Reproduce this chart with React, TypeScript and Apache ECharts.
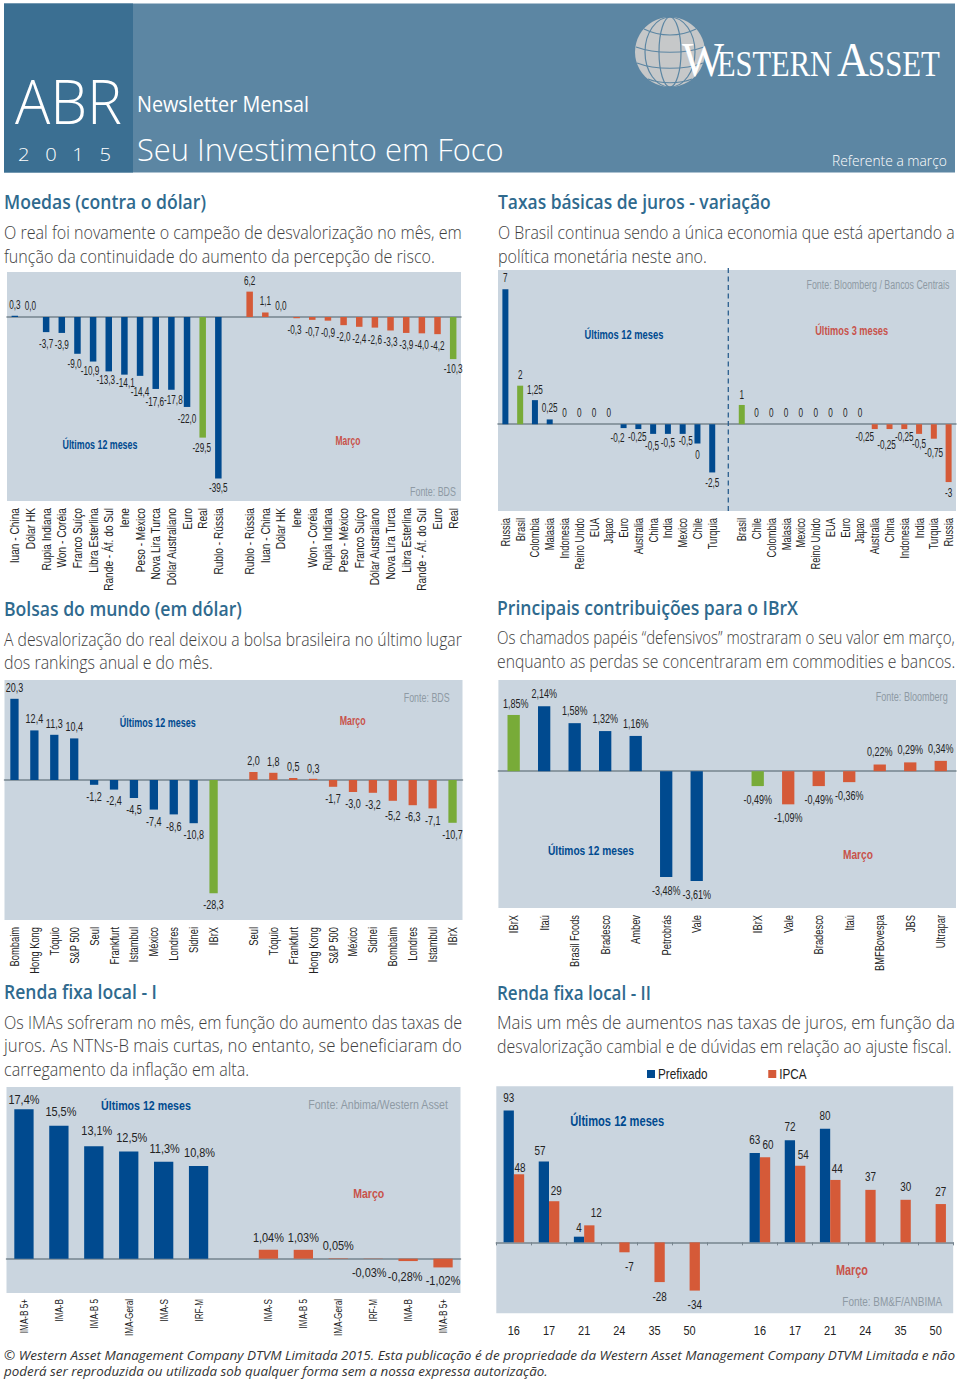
import React, { useEffect, useRef } from "react";
import * as echarts from "echarts";

// ---------- Moedas ----------
const moedasAnoCategorias = ["Iuan - China", "Dólar HK", "Rupia Indiana", "Won - Coréia", "Franco Suíço", "Libra Esterlina", "Rande - Áf. do Sul", "Iene", "Peso - México", "Nova Lira Turca", "Dólar Australiano", "Euro", "Real", "Rublo - Rússia"];
const moedasAnoValores = [0.3, 0.0, -3.7, -3.9, -9.0, -10.9, -13.3, -14.1, -14.4, -17.6, -17.8, -22.0, -29.5, -39.5];
const moedasMesCategorias = ["Rublo - Rússia", "Iuan - China", "Dólar HK", "Iene", "Won - Coréia", "Rupia Indiana", "Peso - México", "Franco Suíço", "Dólar Australiano", "Nova Lira Turca", "Libra Esterlina", "Rande - Áf. do Sul", "Euro", "Real"];
const moedasMesValores = [6.2, 1.1, 0.0, -0.3, -0.7, -0.9, -2.0, -2.4, -2.6, -3.3, -3.9, -4.0, -4.2, -10.3];
// ---------- Taxas ----------
const taxasAnoCategorias = ["Russia", "Brasil", "Colombia", "Malasia", "Indonesia", "Reino Unido", "EUA", "Japao", "Euro", "Australia", "China", "India", "Mexico", "Chile", "Turquia"];
const taxasAnoValores = [7, 2, 1.25, 0.25, 0, 0, 0, 0, -0.2, -0.25, -0.5, -0.5, -0.5, -1, -2.5];
const taxasAnoRotulos = ["7", "2", "1,25", "0,25", "0", "0", "0", "0", "-0,2", "-0,25", "-0,5", "-0,5", "-0,5", "0", "-2,5"];
const taxasMesCategorias = ["Brasil", "Chile", "Colombia", "Malasia", "Mexico", "Reino Unido", "EUA", "Euro", "Japao", "Australia", "China", "Indonesia", "India", "Turquia", "Russia"];
const taxasMesValores = [1, 0, 0, 0, 0, 0, 0, 0, 0, -0.25, -0.25, -0.25, -0.5, -0.75, -3];
const taxasMesRotulos = ["1", "0", "0", "0", "0", "0", "0", "0", "0", "-0,25", "-0,25", "-0,25", "-0,5", "-0,75", "-3"];
// ---------- Bolsas ----------
const bolsasAnoCategorias = ["Bombaim", "Hong Kong", "Tóquio", "S&P 500", "Seul", "Frankfurt", "Istambul", "México", "Londres", "Sidnei", "IBrX"];
const bolsasAnoValores = [20.3, 12.4, 11.3, 10.4, -1.2, -2.4, -4.5, -7.4, -8.6, -10.8, -28.3];
const bolsasMesCategorias = ["Seul", "Tóquio", "Frankfurt", "Hong Kong", "S&P 500", "México", "Sidnei", "Bombaim", "Londres", "Istambul", "IBrX"];
const bolsasMesValores = [2.0, 1.8, 0.5, 0.3, -1.7, -3.0, -3.2, -5.2, -6.3, -7.1, -10.7];
// ---------- IBrX ----------
const ibrxAnoCategorias = ["IBrX", "Itaú", "Brasil Foods", "Bradesco", "Ambev", "Petrobrás", "Vale"];
const ibrxAnoValores = [1.85, 2.14, 1.58, 1.32, 1.16, -3.48, -3.61];
const ibrxMesCategorias = ["IBrX", "Vale", "Bradesco", "Itaú", "BMFBovespa", "JBS", "Ultrapar"];
const ibrxMesValores = [-0.49, -1.09, -0.49, -0.36, 0.22, 0.29, 0.34];
// ---------- Renda fixa I ----------
const imaAnoCategorias = ["IMA-B 5+", "IMA-B", "IMA-B 5", "IMA-Geral", "IMA-S", "IRF-M"];
const imaAnoValores = [17.4, 15.5, 13.1, 12.5, 11.3, 10.8];
const imaMesCategorias = ["IMA-S", "IMA-B 5", "IMA-Geral", "IRF-M", "IMA-B", "IMA-B 5+"];
const imaMesValores = [1.04, 1.03, 0.05, -0.03, -0.28, -1.02];
// ---------- Renda fixa II ----------
const vencimentos = ["16", "17", "21", "24", "35", "50", "", "16", "17", "21", "24", "35", "50"];
const prefixadoValores = [93, 57, 4, null, null, null, null, 63, 72, 80, null, null, null];
const ipcaValores = [48, 29, 12, -7, -28, -34, null, 60, 54, 44, 37, 30, 27];

const AZUL = "#004a8f", LARANJA = "#d55a38", VERDE = "#78ab38", FUNDO = "#cad5df";
const EIXO = "#76848e", TITULO = "#2f6a8e", CORPO = "#3e3e3e", FONTE_C = "#8e9aa4", MARCO = "#c8524a", CAPA = "#5c86a3";
const NARROW = '"Liberation Sans",sans-serif';
const COND = '"Liberation Sans",Arial,sans-serif'; // textos do gráfico, comprimidos depois de desenhados
const SANS = '"Open Sans","Noto Sans",sans-serif';

const ctx = document.createElement("canvas").getContext("2d") as CanvasRenderingContext2D;
function fit(text: string, x: number, cy: number, w: number, font: string, fill: string, z = 20) {
  ctx.font = font;
  const m = ctx.measureText(text).width || 1;
  return { type: "text", x, y: cy, scaleX: w / m, z, silent: true, style: { text, font, fill, align: "left", verticalAlign: "middle" } };
}
const mid = (text: string, cx: number, cy: number, w: number, font: string, fill: string) => fit(text, cx - w / 2, cy, w, font, fill);
const corpo = (t: string, x: number, cy: number, w: number) => fit(t, x, cy, w, `300 18.5px ${SANS}`, CORPO);
const titulo = (t: string, x: number, cy: number, w: number) => fit(t, x, cy, w, `600 19px ${SANS}`, TITULO);
const realce = (s: number) => `bold ${s}px ${NARROW}`;
const nota = (s: number) => `${s}px ${NARROW}`;

type Nudge = Record<number, [number, number]>;
interface Panel {
  left: number; top: number; width: number; height: number; min: number; max: number;
  cats: string[]; anoVals: number[]; mesVals: number[]; mesCats: string[]; destaque: string;
  bar: number; fs: number; axisFs: number; gapP: number; gapN: number; margin: number;
  fmt: (v: number) => string; anoTxt?: string[]; mesTxt?: string[]; anoNudge: Nudge; mesNudge: Nudge;
}
const com = (d: number, suf = "") => (v: number) => v.toFixed(d).replace(".", ",") + suf;

const painéis: Panel[] = [
  { left: 7, top: 272, width: 454, height: 229, min: -45, max: 11, cats: moedasAnoCategorias, mesCats: moedasMesCategorias, anoVals: moedasAnoValores, mesVals: moedasMesValores, destaque: "Real", bar: 6.5, fs: 12, axisFs: 13, gapP: 11, gapN: 12, margin: 7, fmt: com(1),
    anoNudge: { 4: [-3, -2], 5: [-3, -3], 6: [-3, -3], 7: [1, -4], 8: [0, 4], 9: [-1, 1], 10: [2, -2], 12: [-1, -2], 13: [0, -3] }, mesNudge: { 3: [-2, 0], 13: [0, -2] } },
  { left: 498, top: 270, width: 458, height: 241, min: -4.5, max: 8, cats: taxasAnoCategorias, mesCats: taxasMesCategorias, anoVals: taxasAnoValores, mesVals: taxasMesValores, destaque: "Brasil", bar: 6, fs: 12, axisFs: 12.8, gapP: 11, gapN: 12, margin: 7, fmt: com(0), anoTxt: taxasAnoRotulos, mesTxt: taxasMesRotulos,
    anoNudge: { 2: [0, 1], 8: [-6, -2], 9: [-1, -4], 10: [-1, 0], 11: [0, -3], 12: [3, -5], 13: [0, -1], 14: [0, -1] }, mesNudge: { 0: [0, 1], 9: [-10, -4], 10: [-3, 4], 11: [0, -4], 12: [0, -2], 13: [0, 2], 14: [0, -1] } },
  { left: 4.5, top: 680, width: 458, height: 240, min: -35, max: 25, cats: bolsasAnoCategorias, mesCats: bolsasMesCategorias, anoVals: bolsasAnoValores, mesVals: bolsasMesValores, destaque: "IBrX", bar: 8.3, fs: 12.5, axisFs: 12.8, gapP: 11, gapN: 12, margin: 7, fmt: com(1),
    anoNudge: { 5: [0, -1] }, mesNudge: { 3: [0, 1], 7: [0, 3] } },
  { left: 498.4, top: 680, width: 457.6, height: 228, min: -4.5, max: 3, cats: ibrxAnoCategorias, mesCats: ibrxMesCategorias, anoVals: ibrxAnoValores, mesVals: ibrxMesValores, destaque: "IBrX", bar: 12.3, fs: 12.5, axisFs: 12.8, gapP: 12, gapN: 13.5, margin: 7, fmt: com(2, "%"),
    anoNudge: { 0: [2, 1] }, mesNudge: {} },
  { left: 6.5, top: 1087, width: 454, height: 206, min: -4, max: 20, cats: imaAnoCategorias, mesCats: imaMesCategorias, anoVals: imaAnoValores, mesVals: imaMesValores, destaque: "", bar: 19.3, fs: 13.5, axisFs: 11, gapP: 12, gapN: 13, margin: 6, fmt: com(1, "%"),
    anoNudge: { 0: [0, 2], 1: [2, -2], 2: [3, -3], 3: [3, -2], 4: [1, -1], 5: [1, -1] }, mesNudge: {} },
];
const imaMesRotulos = imaMesValores.map(com(2, "%"));
painéis[4].mesTxt = imaMesRotulos;
painéis[4].mesNudge = { 3: [-4, 0], 4: [-3, 2] };

const fonteGap = (p: Panel, v: number) => (v >= 0 ? p.gapP : p.gapN) - p.fs / 2;

function etiqueta(p: Panel, v: number, txt: string, n?: [number, number]) {
  return {
    show: true, formatter: txt, position: v >= 0 ? "top" : "bottom", distance: fonteGap(p, v),
    offset: n || [0, 0], color: "#222", fontFamily: COND, fontSize: p.fs,
  };
}

function opcoes() {
  const grid: any[] = [], xAxis: any[] = [], yAxis: any[] = [], series: any[] = [];
  painéis.forEach((p, i) => {
    grid.push({ left: p.left, top: p.top, width: p.width, height: p.height, show: true, backgroundColor: FUNDO, borderWidth: 0 });
    const cats = [...p.cats, "", ...p.mesCats];
    xAxis.push(
      { gridIndex: i, type: "category", data: cats, position: "bottom", axisLine: { show: false, onZero: false }, axisTick: { show: false },
        axisLabel: { interval: 0, rotate: 90, margin: p.margin, color: "#222", fontFamily: COND, fontSize: p.axisFs, hideOverlap: false } },
      { gridIndex: i, type: "category", data: cats, position: "bottom", axisLine: { show: true, onZero: true, lineStyle: { color: EIXO, width: 1.5 } }, axisTick: { show: false }, axisLabel: { show: false } },
    );
    yAxis.push({ gridIndex: i, type: "value", min: p.min, max: p.max, show: false, splitLine: { show: false } });
    const nulos = (n: number) => new Array(n).fill(null);
    const ponto = (base: string, cat: string, v: number, t: string, n?: [number, number]) => ({
      value: v, itemStyle: { color: cat === p.destaque ? VERDE : base }, label: etiqueta(p, v, t, n),
    });
    series.push(
      { name: "Últimos 12 meses", type: "bar", xAxisIndex: 2 * i, yAxisIndex: i, barWidth: p.bar, barGap: "-100%",
        data: [...p.anoVals.map((v, k) => ponto(AZUL, p.cats[k], v, p.anoTxt ? p.anoTxt[k] : p.fmt(v), p.anoNudge[k])), ...nulos(1 + p.mesVals.length)] },
      { name: "Março", type: "bar", xAxisIndex: 2 * i, yAxisIndex: i, barWidth: p.bar, barGap: "-100%",
        data: [...nulos(1 + p.anoVals.length), ...p.mesVals.map((v, k) => ponto(LARANJA, p.mesCats[k], v, p.mesTxt ? p.mesTxt[k] : p.fmt(v), p.mesNudge[k]))] },
    );
  });

  // Renda fixa II
  const g = painéis.length, xi = xAxis.length;
  grid.push({ left: 496.3, top: 1086.3, width: 456.9, height: 227, show: true, backgroundColor: FUNDO, borderWidth: 0 });
  xAxis.push(
    { gridIndex: g, type: "category", data: vencimentos, position: "bottom", axisLine: { show: false, onZero: false }, axisTick: { show: false },
      axisLabel: { interval: 0, margin: 10, color: "#222", fontFamily: COND, fontSize: 13.5 } },
    { gridIndex: g, type: "category", data: vencimentos, position: "bottom", axisLine: { show: true, onZero: true, lineStyle: { color: EIXO, width: 1.5 } }, axisTick: { show: true, length: 3, lineStyle: { color: EIXO } }, axisLabel: { show: false } },
  );
  yAxis.push({ gridIndex: g, type: "value", min: -50, max: 110, show: false, splitLine: { show: false } });
  const n6: Record<string, Nudge> = {
    p: { 0: [0, -1], 1: [-4, 1], 2: [0, 3], 7: [0, -1], 8: [0, -1.5], 9: [0, -1] },
    i: { 0: [1, 5], 1: [2, 1], 2: [7, -1], 3: [5, 1], 4: [0, 0.5], 7: [3, -1], 8: [3, 1], 9: [2, 1], 10: [0, -1], 11: [0, -1], 12: [0, -1] },
  };
  const pt6 = (v: number | null, n?: [number, number]) => v === null ? null : ({
    value: v,
    label: { show: true, formatter: String(v), position: v >= 0 ? "top" : "bottom", distance: v >= 0 ? 5.5 : 7, offset: n || [0, 0], color: "#222", fontFamily: COND, fontSize: 13 },
  });
  series.push(
    { name: "Prefixado", type: "bar", xAxisIndex: xi, yAxisIndex: g, barWidth: 10.3, barGap: 0, itemStyle: { color: AZUL }, data: prefixadoValores.map((v, k) => pt6(v, n6.p[k])) },
    { name: "IPCA", type: "bar", xAxisIndex: xi, yAxisIndex: g, barWidth: 10.3, barGap: 0, itemStyle: { color: LARANJA }, data: ipcaValores.map((v, k) => pt6(v, n6.i[k])) },
  );

  const graphic: any[] = [
    { type: "rect", z: 1, shape: { x: 4, y: 3.5, width: 951, height: 169 }, style: { fill: CAPA } },
    { type: "rect", z: 2, shape: { x: 4, y: 3.5, width: 129, height: 169 }, style: { fill: "#3b6f92" } },
    fit("ABR", 15, 101, 107, `300 60px ${SANS}`, "#fff"),
    fit("2   0   1   5", 18, 154, 93, `300 19px ${SANS}`, "#fff"),
    fit("Newsletter Mensal", 137, 104, 172, `400 21px ${SANS}`, "#fff"),
    fit("Seu Investimento em Foco", 137, 149, 367, `300 31px ${SANS}`, "#fff"),
    fit("Referente a março", 832, 160, 115, `300 14px ${SANS}`, "#fff"),
    // logotipo
    { type: "circle", z: 3, shape: { cx: 670, cy: 52, r: 35 }, style: { fill: "#c6c8c9" } },
    { type: "ellipse", z: 4, shape: { cx: 670, cy: 52, rx: 11, ry: 35 }, style: { fill: "none", stroke: CAPA, lineWidth: 1.2 } },
    { type: "ellipse", z: 4, shape: { cx: 670, cy: 52, rx: 25, ry: 35 }, style: { fill: "none", stroke: CAPA, lineWidth: 1.2 } },
    { type: "bezierCurve", z: 4, shape: { x1: 644, y1: 29, x2: 696, y2: 29, cpx1: 660, cpy1: 37, cpx2: 680, cpy2: 37 }, style: { fill: "none", stroke: CAPA, lineWidth: 1.2 } },
    { type: "bezierCurve", z: 4, shape: { x1: 636, y1: 47, x2: 704, y2: 47, cpx1: 655, cpy1: 54, cpx2: 685, cpy2: 54 }, style: { fill: "none", stroke: CAPA, lineWidth: 1.2 } },
    { type: "bezierCurve", z: 4, shape: { x1: 637, y1: 63, x2: 703, y2: 63, cpx1: 655, cpy1: 70, cpx2: 685, cpy2: 70 }, style: { fill: "none", stroke: CAPA, lineWidth: 1.2 } },
    { type: "bezierCurve", z: 4, shape: { x1: 648, y1: 79, x2: 692, y2: 79, cpx1: 660, cpy1: 84, cpx2: 680, cpy2: 84 }, style: { fill: "none", stroke: CAPA, lineWidth: 1.2 } },
    fit("W", 682, 60, 42, `48px "Liberation Serif",serif`, "#fff"),
    fit("ESTERN", 717, 64.5, 115, `35px "Liberation Serif",serif`, "#fff"),
    fit("A", 837, 60, 32, `48px "Liberation Serif",serif`, "#fff"),
    fit("SSET", 868, 64.5, 72, `35px "Liberation Serif",serif`, "#fff"),
    // cabeçalhos e textos
    titulo("Moedas (contra o dólar)", 4, 201.5, 202),
    titulo("Taxas básicas de juros - variação", 498, 201.5, 273),
    corpo("O real foi novamente o campeão de desvalorização no mês, em", 4, 232, 458),
    corpo("função da continuidade do aumento da percepção de risco.", 4, 256, 431),
    corpo("O Brasil continua sendo a única economia que está apertando a", 498, 232, 457),
    corpo("política monetária neste ano.", 498, 256, 209),
    titulo("Bolsas do mundo (em dólar)", 4, 608.5, 238),
    titulo("Principais contribuições para o IBrX", 497, 607.5, 301),
    corpo("A desvalorização do real deixou a bolsa brasileira no último lugar", 4, 639, 458),
    corpo("dos rankings anual e do mês.", 4, 662, 209),
    corpo("Os chamados papéis “defensivos” mostraram o seu valor em março,", 497, 637, 458),
    corpo("enquanto as perdas se concentraram em commodities e bancos.", 497, 661, 458),
    titulo("Renda fixa local - I", 4, 991.5, 153),
    titulo("Renda fixa local - II", 497, 992.5, 154),
    corpo("Os IMAs sofreram no mês, em função do aumento das taxas de", 4, 1022, 458),
    corpo("juros. As NTNs-B mais curtas, no entanto, se beneficiaram do", 4, 1045, 458),
    corpo("carregamento da inflação em alta.", 4, 1069, 245),
    corpo("Mais um mês de aumentos nas taxas de juros, em função da", 497, 1022, 458),
    corpo("desvalorização cambial e de dúvidas em relação ao ajuste fiscal.", 497, 1046, 455),
    fit("© Western Asset Management Company DTVM Limitada 2015. Esta publicação é de propriedade da Western Asset Management Company DTVM Limitada e não", 4, 1355, 951, `italic 13.5px ${SANS}`, "#333"),
    fit("poderá ser reproduzida ou utilizada sob qualquer forma sem a nossa expressa autorização.", 4, 1371.5, 544, `italic 13px ${SANS}`, "#333"),
    // rótulos dos painéis
    mid("Últimos 12 meses", 100, 444.5, 75, realce(12.5), AZUL),
    mid("Março", 348, 440.5, 25, realce(12.5), MARCO),
    mid("Fonte: BDS", 433, 491.5, 46, nota(12.5), FONTE_C),
    mid("Últimos 12 meses", 624, 334, 79, realce(12.5), AZUL),
    mid("Últimos 3 meses", 851.7, 330, 73, realce(12.5), MARCO),
    mid("Fonte: Bloomberg / Bancos Centrais", 878, 284, 143, nota(12.5), FONTE_C),
    mid("Últimos 12 meses", 157.7, 722.5, 76, realce(12.5), AZUL),
    mid("Março", 352.7, 720, 26, realce(12.5), MARCO),
    mid("Fonte: BDS", 426.7, 697, 46, nota(12.5), FONTE_C),
    mid("Últimos 12 meses", 591, 850.5, 86, realce(13.5), AZUL),
    mid("Março", 858, 854, 30, realce(13.5), MARCO),
    mid("Fonte: Bloomberg", 911.7, 696, 72, nota(12.5), FONTE_C),
    mid("Últimos 12 meses", 146, 1105.5, 90, realce(13.5), AZUL),
    mid("Março", 368.7, 1193.3, 31, realce(13.5), MARCO),
    mid("Fonte: Anbima/Western Asset", 378.7, 1104.3, 141, nota(13), FONTE_C),
    mid("Últimos 12 meses", 617.3, 1122, 94, realce(14), AZUL),
    mid("Março", 852, 1270.3, 32, realce(14), MARCO),
    mid("Fonte: BM&F/ANBIMA", 892.3, 1301.3, 100, nota(13), FONTE_C),
    { type: "line", z: 20, silent: true, shape: { x1: 728.3, y1: 268, x2: 728.3, y2: 511 }, style: { stroke: "#2c5f8e", lineWidth: 1.3, lineDash: [5, 3.5] } },
  ];

  return {
    animation: false, backgroundColor: "#fff", textStyle: { fontFamily: COND },
    legend: { data: ["Prefixado", "IPCA"], left: 642, top: 1061.5, itemWidth: 8, itemHeight: 8, itemGap: 49, icon: "rect", selectedMode: false,
      textStyle: { fontFamily: COND, fontSize: 14.5, color: "#222", padding: [0, 0, 0, -2] } },
    grid, xAxis, yAxis, series, graphic,
  };
}

// Os gráficos originais usam uma fonte estreita que não existe aqui: comprime os textos do gráfico no SVG.
const fatorGirado: Record<string, number> = { "13": 0.78, "12.8": 0.73, "11": 0.74 };
const fatorPlano: Record<string, number> = { "12": 0.68, "12.5": 0.72, "13": 0.76, "13.5": 0.81, "14.5": 0.81 };
function comprimir(root: HTMLElement) {
  root.querySelectorAll("svg text").forEach((el: any) => {
    const cs = getComputedStyle(el);
    if (!cs.fontFamily.includes("Arial")) return;
    const fs = String(parseFloat(cs.fontSize));
    const tr = el.getAttribute("transform") || "";
    const girado = /matrix\(\s*(-?[0-9.e-]+)/.test(tr) && Math.abs(parseFloat(RegExp.$1)) < 0.5;
    const fator = (girado ? fatorGirado : fatorPlano)[fs] ?? 0.78;
    const w = el.getComputedTextLength();
    if (w > 0) {
      el.setAttribute("textLength", String(w * fator));
      el.setAttribute("lengthAdjust", "spacingAndGlyphs");
    }
  });
}

export default function App() {
  const ref = useRef<HTMLDivElement>(null);
  useEffect(() => {
    document.body.style.margin = "0";
    const chart = echarts.init(ref.current as HTMLDivElement, undefined, { renderer: "svg" });
    chart.setOption(opcoes() as any);
    comprimir(ref.current as HTMLDivElement);
    return () => chart.dispose();
  }, []);
  return <div ref={ref} style={{ width: 960, height: 1380 }} />;
}
